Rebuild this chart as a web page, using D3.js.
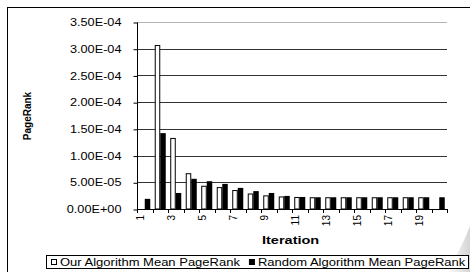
<!DOCTYPE html>
<html>
<head>
<meta charset="utf-8">
<script src="https://cdn.jsdelivr.net/npm/d3@7"></script>
<style>
body { margin: 0; background: #fff; }
svg { display: block; font-family: "Liberation Sans", Arial, sans-serif; }
</style>
</head>
<body>
<svg width="470" height="272"></svg>
<script>
const iterations = [1, 2, 3, 4, 5, 6, 7, 8, 9, 10, 11, 12, 13, 14, 15, 16, 17, 18, 19, 20]
const ourMean = [0.04e-5, 30.7e-5, 13.3e-5, 6.7e-5, 4.35e-5, 4.1e-5, 3.55e-5, 2.9e-5, 2.55e-5, 2.35e-5,
                 2.25e-5, 2.2e-5, 2.2e-5, 2.2e-5, 2.2e-5, 2.2e-5, 2.2e-5, 2.2e-5, 2.2e-5, 0]
const randomMean = [1.9e-5, 14.2e-5, 3.0e-5, 5.65e-5, 5.2e-5, 4.7e-5, 3.95e-5, 3.35e-5, 3.0e-5, 2.45e-5,
                    2.25e-5, 2.2e-5, 2.2e-5, 2.2e-5, 2.2e-5, 2.2e-5, 2.2e-5, 2.2e-5, 2.2e-5, 2.2e-5]
const yTicks = [0, 0.5e-4, 1.0e-4, 1.5e-4, 2.0e-4, 2.5e-4, 3.0e-4, 3.5e-4]
const xTickLabels = [1, 3, 5, 7, 9, 11, 13, 15, 17, 19]
const seriesNames = ["Our Algorithm Mean PageRank", "Random Algorithm Mean PageRank"]

const stretch = 1.27   // the picture is a bit wider than the fonts
const plotLeft = 137, plotRight = 447, plotTop = 22, plotBottom = 209

var svg = d3.select("svg")

// page curl shadow in the lower right corner
var grad = svg.append("defs").append("linearGradient")
    .attr("id", "curl").attr("x1", 0).attr("y1", 0).attr("x2", 1).attr("y2", 0)
grad.append("stop").attr("offset", 0).attr("stop-color", "#fff")
grad.append("stop").attr("offset", 1).attr("stop-color", "#d4d4d4")
svg.append("path")
    .attr("d", "M470,226 L470,272 L446,272 Q460,252 470,226 Z")
    .attr("fill", "url(#curl)")

// frame round the whole chart
svg.append("rect")
    .attr("x", 7.5).attr("y", 7.5)
    .attr("width", 470).attr("height", 300)
    .attr("fill", "none").attr("stroke", "#000")

var x = d3.scaleBand().domain(iterations)
    .range([plotLeft, plotRight])
    .paddingInner(0.29).paddingOuter(0.145)
var x1 = d3.scaleBand().domain([0, 1]).range([0, x.bandwidth()])
var y = d3.scaleLinear().domain([0, 3.5e-4]).range([plotBottom, plotTop])

function sci(v) {
    let parts = v.toExponential(2).split("e")
    let e = +parts[1]
    return parts[0] + "E" + (e < 0 ? "-" : "+") + String(Math.abs(e)).padStart(2, "0")
}

function widen(sel, k) {
    sel.each(function () {
        let w = this.getComputedTextLength()
        d3.select(this).attr("textLength", w * k).attr("lengthAdjust", "spacingAndGlyphs")
    })
}

// gridlines
svg.append("g").selectAll("line")
    .data(yTicks.filter(d => d > 0))
    .enter().append("line")
    .attr("x1", plotLeft).attr("x2", plotRight)
    .attr("y1", d => Math.round(y(d)) + 0.5).attr("y2", d => Math.round(y(d)) + 0.5)
    .attr("stroke", d => d === 3.5e-4 ? "#b4b4b4" : "#333")

// bars
var groups = svg.append("g").selectAll("g")
    .data(iterations)
    .enter().append("g")
    .attr("transform", d => "translate(" + x(d) + ",0)")

groups.append("rect")
    .attr("x", x1(0) + 0.5)
    .attr("y", (d, i) => y(ourMean[i]) + 0.5)
    .attr("width", x1.bandwidth() - 1)
    .attr("height", (d, i) => Math.max(0, plotBottom - y(ourMean[i]) - 0.5))
    .attr("fill", "#fff").attr("stroke", "#000")
    .style("display", (d, i) => ourMean[i] > 0 ? null : "none")

groups.append("rect")
    .attr("x", x1(1))
    .attr("y", (d, i) => y(randomMean[i]))
    .attr("width", x1.bandwidth())
    .attr("height", (d, i) => plotBottom - y(randomMean[i]))
    .attr("fill", "#000")

// y axis
var yAxis = svg.append("g")
    .attr("transform", "translate(" + (plotLeft + 0.5) + ",0.5)")
    .call(d3.axisLeft(y).tickValues(yTicks).tickSize(4).tickPadding(12).tickFormat(sci))
yAxis.select(".domain").attr("d", "M0," + plotTop + "V" + plotBottom)
yAxis.selectAll("text").attr("font-size", 10).attr("font-family", null).attr("fill", "#000")
widen(yAxis.selectAll("text"), stretch)

// x axis with ticks on the category boundaries
var bounds = iterations.map(d => x(d) - (x.step() - x.bandwidth()) / 2).concat([plotRight])
var xAxis = svg.append("g")
xAxis.append("line")
    .attr("x1", plotLeft).attr("x2", plotRight + 1)
    .attr("y1", plotBottom + 0.5).attr("y2", plotBottom + 0.5)
    .attr("stroke", "#000")
xAxis.selectAll(".tick")
    .data(bounds)
    .enter().append("line")
    .attr("x1", d => Math.round(d) + 0.5).attr("x2", d => Math.round(d) + 0.5)
    .attr("y1", plotBottom).attr("y2", plotBottom + 4)
    .attr("stroke", "#000")
xAxis.selectAll("text")
    .data(xTickLabels)
    .enter().append("text")
    .attr("transform", d => "translate(" + (x(d) + x.bandwidth() / 2 - 4) + "," + (plotBottom + 6) + ") rotate(-90)")
    .attr("text-anchor", "end")
    .attr("dy", "0.35em")
    .attr("font-size", 10)
    .text(d => d)

// axis titles
var xTitle = svg.append("text")
    .attr("x", 262).attr("y", 244)
    .attr("font-size", 10).attr("font-weight", "bold")
    .text("Iteration")
widen(xTitle, 1.45)

svg.append("text")
    .attr("transform", "translate(31,116) rotate(-90)")
    .attr("text-anchor", "middle")
    .attr("font-size", 10).attr("font-weight", "bold")
    .text("PageRank")

// legend
var legend = svg.append("g")
legend.append("rect")
    .attr("x", 46.5).attr("y", 255.5)
    .attr("width", 422).attr("height", 13)
    .attr("fill", "#fff").attr("stroke", "#000")

var lx = 51
seriesNames.forEach(function (name, i) {
    legend.append("rect")
        .attr("x", lx + 0.5).attr("y", 259.5)
        .attr("width", 5).attr("height", 5)
        .attr("fill", i === 0 ? "#fff" : "#000").attr("stroke", "#000")
    let t = legend.append("text")
        .attr("x", lx + 9).attr("y", 265.5)
        .attr("font-size", 10)
        .text(name)
    widen(t, 1.3)
    lx += 9 + +t.attr("textLength") + 9
})
</script>
</body>
</html>
